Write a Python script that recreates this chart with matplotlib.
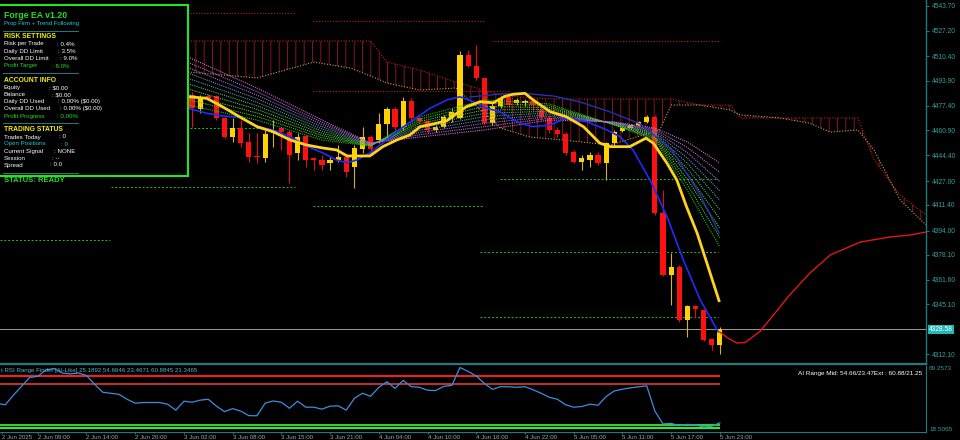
import matplotlib.pyplot as plt
import numpy as np
from matplotlib.colors import LinearSegmentedColormap
from matplotlib.lines import Line2D
from matplotlib.patches import Rectangle
from matplotlib.transforms import blended_transform_factory

plt.rcParams["font.family"] = ["Liberation Sans", "DejaVu Sans"]
plt.rcParams["hatch.linewidth"] = 0.6

W, H = 960, 440
TEAL = "#237a7a"
TEAL_TXT = "#35a0a0"

# ---- candles, bar index 0..65 (older bars sit behind the info panel)
OPEN = [4484.5, 4475.2, 4483.8, 4483.8, 4469.2, 4456.5, 4462.5, 4453.2, 4443.9, 4442.5,
        4459.2, 4462.5, 4459.8, 4445.9, 4457.2, 4442.5, 4441.2, 4439.2, 4441.2, 4443.2,
        4436.6, 4448.5, 4456.5, 4454.5, 4465.2, 4475.2, 4463.2, 4480.5, 4469.2, 4467.2,
        4461.2, 4463.2, 4469.2, 4469.2, 4511.1, 4503.8, 4495.8, 4465.8, 4477.1, 4483.1,
        4479.1, 4479.1, 4480.5, 4474.5, 4469.2, 4461.2, 4458.5, 4446.5, 4439.9, 4441.2,
        4444.5, 4439.2, 4452.5, 4460.5, 4462.5, 4464.5, 4466.5, 4469.8, 4405.9, 4364.7,
        4370.0, 4334.7, 4344.1, 4341.4, 4322.1, 4318.1]
HIGH = [4486.5, 4484.5, 4485.1, 4484.5, 4469.8, 4469.2, 4467.8, 4459.2, 4459.2, 4461.2,
        4467.8, 4463.2, 4461.2, 4459.2, 4457.8, 4443.2, 4444.5, 4443.2, 4451.2, 4444.5,
        4451.2, 4463.2, 4457.8, 4472.5, 4476.5, 4476.5, 4483.1, 4482.5, 4469.8, 4467.8,
        4464.5, 4471.2, 4475.8, 4513.8, 4514.4, 4517.7, 4496.4, 4479.1, 4483.8, 4483.8,
        4482.5, 4481.8, 4481.8, 4476.5, 4471.2, 4463.2, 4459.8, 4447.9, 4444.5, 4446.5,
        4446.5, 4453.2, 4461.2, 4463.2, 4465.2, 4467.2, 4471.2, 4471.2, 4421.2, 4379.3,
        4371.3, 4344.7, 4344.7, 4342.1, 4322.8, 4330.1]
LOW = [4463.2, 4472.5, 4481.1, 4467.8, 4455.9, 4453.2, 4449.9, 4439.9, 4439.2, 4439.9,
       4449.9, 4447.9, 4425.9, 4441.2, 4436.6, 4434.6, 4434.6, 4434.6, 4439.9, 4429.9,
       4422.6, 4445.9, 4444.5, 4452.5, 4454.5, 4461.2, 4461.2, 4467.8, 4465.8, 4459.2,
       4459.8, 4462.5, 4466.5, 4468.5, 4503.1, 4494.4, 4464.5, 4464.5, 4475.8, 4476.5,
       4477.8, 4477.1, 4474.5, 4467.8, 4459.2, 4456.5, 4444.5, 4439.2, 4434.6, 4436.6,
       4437.9, 4427.9, 4451.2, 4459.8, 4461.8, 4463.8, 4465.8, 4404.6, 4364.0, 4344.7,
       4333.4, 4323.4, 4336.1, 4320.8, 4314.8, 4312.1]
CLOSE = [4475.8, 4482.5, 4482.5, 4469.2, 4456.5, 4462.5, 4452.5, 4443.2, 4442.9, 4458.5,
         4461.2, 4459.8, 4444.5, 4456.5, 4441.2, 4441.5, 4437.9, 4441.2, 4443.2, 4433.2,
         4449.2, 4456.5, 4448.5, 4465.2, 4475.2, 4463.2, 4480.5, 4469.2, 4467.2, 4461.2,
         4463.2, 4469.8, 4473.2, 4511.1, 4503.8, 4495.8, 4465.8, 4477.1, 4482.5, 4477.8,
         4481.1, 4480.5, 4477.8, 4469.8, 4461.2, 4458.5, 4445.9, 4439.9, 4442.5, 4444.5,
         4439.2, 4452.5, 4459.8, 4462.5, 4464.5, 4466.5, 4469.8, 4405.9, 4364.7, 4370.0,
         4334.7, 4344.1, 4342.1, 4321.4, 4318.1, 4328.6]
LAST_PRICE = 4328.58

# ---- moving averages (bar index, price)
YEL_X = [-0.5, 1.8, 3.8, 5.9, 8.0, 10.0, 12.1, 14.1, 16.1, 17.8, 19.1, 20.3, 21.9, 23.5,
         25.2, 26.8, 28.1, 29.7, 31.4, 32.6, 33.8, 35.5, 37.1, 38.5, 39.5, 41.0, 42.0,
         44.1, 46.1, 48.2, 50.2, 51.5, 53.9, 55.9, 56.8, 58.5, 59.7, 60.9, 62.2, 63.4, 64.9]
YEL_Y = [4483.3, 4482.3, 4476.5, 4469.8, 4463.4, 4460.0, 4454.5, 4451.2, 4449.2, 4447.9,
         4443.9, 4443.9, 4443.9, 4450.1, 4454.5, 4457.8, 4463.4, 4465.2, 4467.4, 4472.3,
         4476.7, 4480.0, 4479.3, 4483.5, 4484.9, 4485.6, 4481.2, 4473.4, 4470.0, 4463.4,
         4452.5, 4450.1, 4450.1, 4455.7, 4452.5, 4439.0, 4427.9, 4410.1, 4392.6, 4372.7,
         4347.6]
BLUE_X = [-0.5, 1.8, 3.8, 5.9, 8.0, 10.0, 12.1, 14.1, 16.1, 17.8, 19.1, 20.3, 21.9, 23.5,
          25.2, 27.2, 29.3, 31.4, 33.0, 34.6, 36.3, 37.9, 40.4, 42.0, 44.1, 46.1, 48.6,
          51.1, 52.7, 54.3, 56.4, 58.5, 60.5, 62.6, 64.8]
BLUE_Y = [4475.6, 4472.3, 4470.5, 4469.6, 4463.4, 4461.2, 4456.7, 4450.5, 4445.9, 4441.2,
          4439.4, 4441.2, 4445.9, 4452.5, 4460.0, 4467.8, 4475.6, 4481.2, 4483.3, 4480.0,
          4475.6, 4473.4, 4465.6, 4463.4, 4464.5, 4469.0, 4466.7, 4461.2, 4456.7, 4447.9,
          4427.9, 4403.5, 4374.7, 4348.0, 4326.9]
NAVY_X = [34.2, 37.9, 40.4, 44.5, 47.8, 51.5, 55.2, 59.1, 62.6, 64.9]
NAVY_Y = [4483.1, 4485.1, 4485.8, 4483.8, 4479.8, 4473.2, 4465.2, 4447.9, 4417.9, 4392.6]

# ---- MA ribbon, fast (green) to slow (pink)
RIB_X = [-0.5, 8, 16, 22, 28, 36, 44, 52, 57, 61, 65]
RIBBON = [
    [4477.8, 4467.8, 4454.5, 4450.5, 4469.8, 4481.2, 4478.5, 4464.5, 4454.5, 4421.2, 4383.3],
    [4481.4, 4470.2, 4456.0, 4450.7, 4468.3, 4479.0, 4477.3, 4464.7, 4455.4, 4424.8, 4389.5],
    [4484.9, 4472.5, 4457.5, 4450.9, 4466.8, 4476.8, 4476.1, 4464.9, 4456.3, 4428.3, 4395.7],
    [4488.5, 4474.9, 4458.9, 4451.2, 4465.4, 4474.5, 4474.9, 4465.2, 4457.2, 4431.9, 4401.9],
    [4492.0, 4477.3, 4460.4, 4451.4, 4463.9, 4472.3, 4473.7, 4465.4, 4458.1, 4435.4, 4408.1],
    [4495.6, 4479.6, 4461.9, 4451.6, 4462.4, 4470.1, 4472.6, 4465.6, 4458.9, 4439.0, 4414.3],
    [4499.1, 4482.0, 4463.4, 4451.8, 4460.9, 4467.9, 4471.4, 4465.8, 4459.8, 4442.5, 4420.6],
    [4502.7, 4484.4, 4464.9, 4452.0, 4459.5, 4465.6, 4470.2, 4466.1, 4460.7, 4446.1, 4426.8],
    [4506.2, 4486.7, 4466.3, 4452.3, 4458.0, 4463.4, 4469.0, 4466.3, 4461.6, 4449.6, 4433.0],
    [4509.8, 4489.1, 4467.8, 4452.5, 4456.5, 4461.2, 4467.8, 4466.5, 4462.5, 4453.2, 4439.2],
]

# ---- cloud spans (shifted forward past the last bar)
CLOUD_X = [-0.5, 8, 15, 19.5, 22, 24, 28, 32.5, 38, 41.6, 45.7, 51.5, 57.6, 59, 62.5,
           66.3, 67.5, 72.4, 76, 78.6, 82, 84, 87.2, 90.4]
SPAN_B = [4520.4, 4520.4, 4520.4, 4520.4, 4520.4, 4506.4, 4501.1, 4493.1, 4484.5, 4482.5,
          4481.8, 4481.8, 4481.8, 4481.8, 4477.8, 4477.8, 4469.2, 4469.2, 4469.2, 4469.2,
          4469.2, 4441.2, 4417.9, 4404.6]
SPAN_A = [4499.8, 4495.8, 4506.4, 4502.4, 4497.1, 4492.5, 4487.8, 4489.1, 4462.5, 4456.5,
          4454.5, 4451.2, 4461.2, 4477.8, 4477.8, 4474.5, 4471.2, 4469.2, 4465.8, 4459.8,
          4461.2, 4447.9, 4414.6, 4398.0]

# ---- projection curve
PROJ_X = [65.0, 66.0, 67.1, 68.1, 70.0, 71.8, 73.6, 76.1, 78.6, 82.3, 86.0, 88.4, 90.4]
PROJ_Y = [4326.7, 4322.7, 4319.4, 4319.7, 4327.4, 4339.4, 4351.4, 4366.0, 4378.0,
          4386.6, 4390.0, 4391.3, 4393.3]

# ---- horizontal levels
RED_LEVELS = [4539.0, 4533.7, 4520.4, 4487.1]
RED_START = [-0.25, 14.9, 37.0, 14.9]
RED_END = [12.7, 36.1, 65.0, 39.2]
GREEN_LEVELS = [4462.5, 4423.2, 4410.6, 4428.6, 4388.0, 4380.0, 4336.7]
GREEN_START = [-0.25, -10.0, 14.9, 37.9, -23.6, 35.5, 35.5]
GREEN_END = [8.7, 12.7, 35.8, 64.8, -10.1, 64.8, 64.8]

PRICE_TICKS = [4543.70, 4527.20, 4510.40, 4493.90, 4477.40, 4460.90, 4444.40, 4427.00,
               4411.40, 4394.00, 4378.10, 4361.60, 4345.10, 4312.10]

# ---- RSI range finder, bar index -24..65
RSI = [40.0, 39.1, 46.4, 53.2, 60.1, 60.9, 65.8, 67.0, 63.5, 62.8, 63.5,
       61.6, 54.8, 48.7, 47.9, 47.1, 43.3, 40.3, 40.8, 40.8, 40.8,
       39.5, 34.9, 41.8, 41.0, 42.6, 43.3, 38.0, 33.8, 36.1, 34.2,
       30.7, 30.6, 40.3, 42.0, 41.0, 36.4, 41.8, 37.2, 37.2, 35.7,
       38.0, 38.2, 34.9, 44.1, 47.9, 45.6, 52.5, 56.7, 51.7, 57.8,
       53.0, 52.5, 50.2, 50.0, 53.2, 54.0, 67.7, 64.7, 61.2, 55.5,
       50.9, 53.0, 52.9, 52.5, 53.0, 50.6, 47.9, 44.8, 43.3, 39.1,
       37.2, 37.7, 39.5, 38.7, 45.4, 49.7, 51.0, 52.1, 52.9, 53.6,
       34.2, 24.3, 24.8, 23.0, 24.0, 23.5, 22.0, 22.5, 25.2]
RSI_FIRST_BAR = -24
RSI_LEVELS = [60.88, 54.66, 23.47, 21.25]
RSI_LEVEL_COLORS = ["#ff1e1e", "#c43030", "#3ccf3c", "#1cff1c"]
RSI_MIN, RSI_MAX = 18.5065, 69.2573

X_TICKS = [-23.4, -19, -13, -7, -1, 5, 11, 17, 23, 29, 35, 41, 47, 53, 59, 65]
X_LABELS = ["2 Jun 2025", "2 Jun 09:00", "2 Jun 14:00", "2 Jun 20:00", "3 Jun 02:00",
            "3 Jun 08:00", "3 Jun 15:00", "3 Jun 21:00", "4 Jun 04:00", "4 Jun 10:00",
            "4 Jun 16:00", "4 Jun 22:00", "5 Jun 05:00", "5 Jun 11:00", "5 Jun 17:00",
            "5 Jun 23:00"]


def fx(px):
    return px / W


def fy(py):
    return 1 - py / H


fig = plt.figure(figsize=(W / 100, H / 100), dpi=100, facecolor="black")
ax = fig.add_axes([0, fy(364), fx(926), 364 / H], facecolor="black")
ax2 = fig.add_axes([0, fy(431.5), fx(926), (431.5 - 365.5) / H], facecolor="black")

XLIM = (-23.65, 90.39)
ax.set_xlim(XLIM)
ax.set_ylim(4305.45, 4547.69)

# cloud
ax.fill_between(CLOUD_X, SPAN_A, SPAN_B, facecolor="none", edgecolor="#9a1a1a",
                hatch="||", linewidth=0, zorder=1)
ax.plot(CLOUD_X, SPAN_B, color="#c81e1e", ls=(0, (1, 1.5)), lw=0.8, zorder=1.2)
ax.plot(CLOUD_X, SPAN_A, color="#c8a050", ls=(0, (1, 1.5)), lw=0.8, zorder=1.2)

ax.hlines(RED_LEVELS, RED_START, RED_END, colors="#b81c1c",
          linestyles=[(0, (1, 1.5))], lw=0.8, zorder=1.3)
ax.hlines(GREEN_LEVELS, GREEN_START, GREEN_END, colors="#2fb82f",
          linestyles=[(0, (2, 2))], lw=0.7, zorder=1.3)
ax.axhline(LAST_PRICE, color="#9a9a9a", lw=0.7, zorder=1.4)

# candles
bars = np.arange(len(CLOSE))
o, c = np.array(OPEN), np.array(CLOSE)
up = c >= o
body_col = np.where(up, "#ffd200", "#ff1010")
wick_col = np.where(up, "#cdb42a", "#e01010")
ax.vlines(bars, LOW, HIGH, colors=wick_col, lw=0.8, zorder=2.9)
ax.bar(bars, np.maximum(np.abs(c - o), 0.8), bottom=np.minimum(o, c), width=0.64,
       color=body_col, linewidth=0, zorder=3)

# ribbon
cmap = LinearSegmentedColormap.from_list(
    "rib", ["#19c419", "#6ecb3c", "#3fae8c", "#8a7ad0", "#d46ad4"])
for k, line in enumerate(RIBBON):
    ax.plot(RIB_X, line, color=cmap(k / (len(RIBBON) - 1)), ls=(0, (1, 1)),
            lw=0.8, zorder=3.5)

ax.plot(NAVY_X, NAVY_Y, color="#2233b0", lw=1.0, zorder=3.8)
ax.plot(BLUE_X, BLUE_Y, color="#1f2cff", lw=1.2, zorder=4)
ax.plot(YEL_X, YEL_Y, color="#ffd21c", lw=2.0, zorder=4.5)
ax.plot(PROJ_X, PROJ_Y, color="#e01818", lw=1.0, zorder=4)

for side in ("top", "left"):
    ax.spines[side].set_visible(False)
for side in ("right", "bottom"):
    ax.spines[side].set_color(TEAL)
ax.spines["bottom"].set_linewidth(1.6)
ax.spines["right"].set_linewidth(1.0)
ax.set_xticks([])
ax.yaxis.tick_right()
ax.set_yticks(PRICE_TICKS, [f"{v:.2f}" for v in PRICE_TICKS])
ax.tick_params(axis="y", colors=TEAL, labelcolor=TEAL_TXT, labelsize=4.8, length=2.5,
               width=0.7, pad=1.5)

bt = blended_transform_factory(ax.transAxes, ax.transData)
ax.text(1 + 3 / 926, LAST_PRICE, f"{LAST_PRICE:.2f}", transform=bt, ha="left",
        va="center", fontsize=4.8, color="white", clip_on=False, zorder=6,
        bbox=dict(facecolor="#22b8b8", edgecolor="none", pad=0.7))

# indicator panel
ax2.set_xlim(XLIM)
ax2.set_ylim(RSI_MIN, RSI_MAX)
for lvl, col in zip(RSI_LEVELS, RSI_LEVEL_COLORS):
    ax2.hlines(lvl, XLIM[0], 65.0, colors=col, lw=1.4, zorder=2)
rsi_x = np.arange(RSI_FIRST_BAR, RSI_FIRST_BAR + len(RSI))
ax2.plot(rsi_x, RSI, color="#3b8ee0", lw=0.9, zorder=3)
for side in ("top", "left"):
    ax2.spines[side].set_visible(False)
for side in ("right", "bottom"):
    ax2.spines[side].set_color(TEAL)
ax2.set_yticks([])
ax2.set_xticks(X_TICKS, X_LABELS, ha="left")
ax2.tick_params(axis="x", colors=TEAL, labelcolor="#93abab", labelsize=4.4,
                length=1.5, width=0.7, pad=0.8)
bt2 = blended_transform_factory(ax2.transAxes, ax2.transData)
ax2.text(1 + 3 / 926, RSI_MAX, f"{RSI_MAX:.4f}", transform=bt2, ha="left", va="top",
         fontsize=4.6, color=TEAL_TXT, clip_on=False)
ax2.text(1 + 3 / 926, RSI_MIN, f"{RSI_MIN:.4f}", transform=bt2, ha="left", va="bottom",
         fontsize=4.6, color=TEAL_TXT, clip_on=False)
fig.text(fx(1), fy(370.5), "t RSI Range Finder [AI-Like] 25.1892 54.6646 23.4671 "
         "60.8845 21.3465", fontsize=4.4, color="#56b4c8", va="center")
fig.text(fx(922), fy(373.5), "AI Range Mid: 54.66/23.47Ext : 60.88/21.25",
         fontsize=4.6, color="white", ha="right", va="center")

# info panel
fig.add_artist(Rectangle((fx(-4), fy(175.5)), fx(191.5), 170 / H, transform=fig.transFigure,
                         facecolor="black", edgecolor="#22e622", lw=1.5, zorder=5))


def panel_text(y, text, color="white", size=4.4, bold=False, x=4):
    fig.text(fx(x), fy(y), text, color=color, fontsize=size, va="center",
             fontweight="bold" if bold else "normal", zorder=7)


def panel_row(y, label, value, value_x, color="white"):
    panel_text(y, label, color)
    panel_text(y, value, color, x=value_x)


def panel_sep(y):
    fig.add_artist(Line2D([fx(3.3), fx(77.7)], [fy(y), fy(y)], transform=fig.transFigure,
                          color="#2e8b9a", lw=0.6, zorder=7))


GREEN_TXT = "#22dd22"
YELLOW_TXT = "#f2f200"
panel_text(15, "Forge EA v1.20", GREEN_TXT, size=6.3, bold=True)
panel_text(23, "Prop Firm + Trend Following", "#1fc8d8", size=4.3)
panel_sep(31)
panel_text(37, "RISK SETTINGS", YELLOW_TXT, size=4.9, bold=True)
panel_row(44, "Risk per Trade", ": 0.4%", 57)
panel_row(51.7, "Daily DD Limit", ": 3.5%", 58)
panel_row(59, "Overall DD Limit", ": 9.0%", 59.5)
panel_row(66, "Profit Target", ": 8.0%", 52, GREEN_TXT)
panel_sep(73)
panel_text(80, "ACCOUNT INFO", YELLOW_TXT, size=4.9, bold=True)
panel_row(87.7, "Equity", ": $0.00", 49)
panel_row(94.7, "Balance", ": $0.00", 52)
panel_row(101.7, "Daily DD Used", ": 0.00% ($0.00)", 58)
panel_row(108.7, "Overall DD Used", ": 0.00% ($0.00)", 60.5)
panel_row(116, "Profit Progress", ": 0.00%", 57, GREEN_TXT)
panel_sep(123)
panel_text(129, "TRADING STATUS", YELLOW_TXT, size=4.9, bold=True)
panel_row(137, "Trades Today", ": 0", 59)
panel_row(144, "Open Positions", ": 0", 61, "#1fc8d8")
panel_row(151, "Current Signal", ": NONE", 54)
panel_row(158, "Session", ": --", 52)
panel_row(165, "Spread", ": 0.0", 50.5)
panel_sep(173)
panel_text(180.5, "STATUS: READY", GREEN_TXT, size=5.5, bold=True)

fig.savefig("out.png", dpi=100, facecolor="black")
